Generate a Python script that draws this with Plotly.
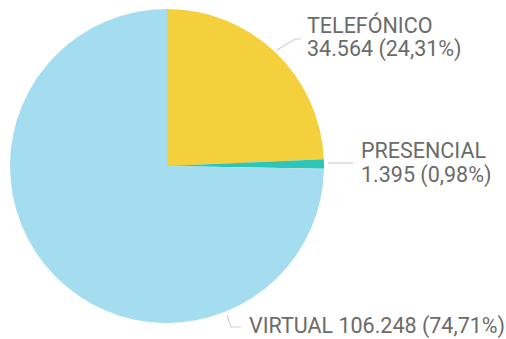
import plotly.graph_objects as go

# Attention channels and their counts
channels = ["TELEFÓNICO", "PRESENCIAL", "VIRTUAL"]
counts = [34564, 1395, 106248]
colors = ["#F4D13C", "#2EC6B8", "#A4DDEF"]

W, H = 506, 339
CX, CY, R = 167, 166, 157  # pie centre and radius in pixels


def px(x):
    return x / W


def py(y):
    return 1 - y / H


def fmt_int(v):
    return f"{v:,}".replace(",", ".")


total = sum(counts)
pcts = [c / total * 100 for c in counts]


def fmt_pct(p):
    return f"{p:.2f}".replace(".", ",") + "%"


fig = go.Figure(
    go.Pie(
        labels=channels,
        values=counts,
        sort=False,
        direction="clockwise",
        rotation=0,
        marker=dict(colors=colors, line=dict(width=0)),
        textinfo="none",
        hoverinfo="label+value+percent",
        showlegend=False,
        domain=dict(x=[px(CX - R), px(CX + R)], y=[py(CY + R), py(CY - R)]),
    )
)

FONT = dict(family="Roboto, 'DejaVu Sans', sans-serif", size=21.5, color="#6B6B6B")
LINE = dict(color="#CFCFCF", width=1.2)

# label layout: (left x, line centres y, leader polyline)
layouts = {
    "TELEFÓNICO": (305, [25, 49], [(277, 50), (295, 39), (301, 39)]),
    "PRESENCIAL": (359, [150, 175], [(328, 163), (353, 163)]),
    "VIRTUAL": (247, [326], [(227, 315), (231, 327), (241, 327)]),
}

annotations = []
shapes = []
for name, val, pct in zip(channels, counts, pcts):
    x0, ys, pts = layouts[name]
    if len(ys) == 2:
        lines = [name, f"{fmt_int(val)} ({fmt_pct(pct)})"]
    else:
        lines = [f"{name} {fmt_int(val)} ({fmt_pct(pct)})"]
    for text, y in zip(lines, ys):
        annotations.append(
            dict(
                text=text,
                x=px(x0),
                y=py(y),
                xref="paper",
                yref="paper",
                xanchor="left",
                yanchor="middle",
                showarrow=False,
                font=FONT,
            )
        )
    path = "M " + " L ".join(f"{px(a)},{py(b)}" for a, b in pts)
    shapes.append(dict(type="path", path=path, xref="paper", yref="paper", line=LINE))

fig.update_layout(
    width=W,
    height=H,
    margin=dict(l=0, r=0, t=0, b=0),
    paper_bgcolor="white",
    plot_bgcolor="white",
    annotations=annotations,
    shapes=shapes,
)

fig.write_html("out.html")
